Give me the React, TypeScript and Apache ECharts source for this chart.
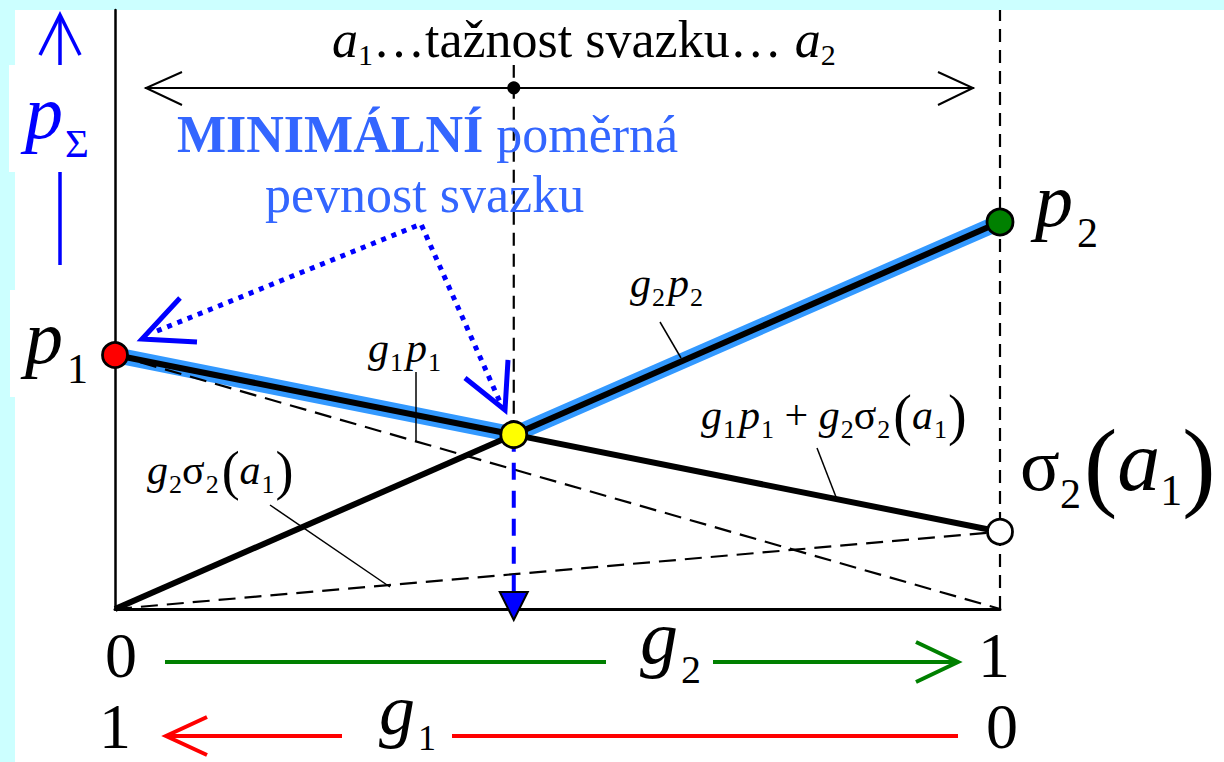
import React, { useEffect, useRef } from 'react';
import * as echarts from 'echarts';

// Strengths read on the p_Σ scale (0 at the g axis, 1 at the top of the frame)
const P1 = 0.424; // p1 – strength of component 1 (g2 = 0)
const P2 = 0.646; // p2 – strength of component 2 (g2 = 1)
const SIGMA2_A1 = 0.129; // σ2(a1) – stress in component 2 at elongation a1
const SPAN_LEVEL = 0.87; // height of the a1 … a2 span arrow
const GUIDE_TOP = 0.908; // upper end of the guide through the minimum

// Share g2 where both curves meet: the minimal bundle strength
const G2_MIN = P1 / (P1 - SIGMA2_A1 + P2);
const P_MIN = P2 * G2_MIN;

const lineG2P2 = [[0, 0], [1, P2]];
const lineMixed = [[0, P1], [1, SIGMA2_A1]];
const lineG1P1 = [[0, P1], [1, 0]];
const lineG2S2 = [[0, 0], [1, SIGMA2_A1]];
const envelope = [[0, P1], [G2_MIN, P_MIN], [1, P2]];

const SERIF = 'Liberation Serif';
const BLUE = '#0000ff';
const LIGHT_BLUE = '#3399ff';
const CAPTION_BLUE = '#3366ff';

type Piece = { t: string; s: number; i?: boolean; b?: boolean; dy?: number; dx?: number };

let measureCtx: CanvasRenderingContext2D | null = null;
function fontOf(p: Piece) {
  return `${p.i ? 'italic ' : ''}${p.b ? 'bold ' : ''}${p.s}px ${SERIF}`;
}
function widthOf(p: Piece) {
  if (!measureCtx) measureCtx = document.createElement('canvas').getContext('2d');
  measureCtx!.font = fontOf(p);
  return measureCtx!.measureText(p.t).width;
}

// Lays out a run of glyph pieces on a common baseline (subscripts via dy)
function formula(x: number, base: number, pieces: Piece[], fill: string, anchor: 'left' | 'center' = 'left') {
  const widths = pieces.map(widthOf);
  const total = widths.reduce((a, w, k) => a + w + (pieces[k].dx || 0), 0);
  let cx = anchor === 'center' ? x - total / 2 : x;
  return pieces.map((p, k) => {
    cx += p.dx || 0;
    const el = {
      type: 'text',
      x: cx,
      y: base + (p.dy || 0) - 0.3375 * p.s,
      z: 30,
      silent: true,
      style: {
        text: p.t,
        fill,
        fontSize: p.s,
        fontFamily: SERIF,
        fontStyle: p.i ? 'italic' : 'normal',
        fontWeight: p.b ? 'bold' : 'normal',
        align: 'left',
        verticalAlign: 'middle',
      },
    };
    cx += widths[k];
    return el;
  });
}

function seg(x1: number, y1: number, x2: number, y2: number, stroke: string, lineWidth: number) {
  return { type: 'line', z: 25, silent: true, shape: { x1, y1, x2, y2 }, style: { stroke, lineWidth } };
}
function poly(points: number[][], stroke: string, lineWidth: number, lineDash?: number[]) {
  return {
    type: 'polyline',
    z: 25,
    silent: true,
    shape: { points },
    style: { stroke, lineWidth, fill: 'none', lineDash, lineJoin: 'miter', lineCap: 'butt' },
  };
}

const SUB = 26;
const small = (t: string, i = true): Piece => ({ t, s: 42, i });
const sub = (t: string): Piece => ({ t, s: SUB, dy: 9, dx: 1 });

function buildGraphics() {
  const els: any[] = [];
  // white sheet and label panels
  els.push({ type: 'rect', z: -10, silent: true, shape: { x: 15, y: 10, width: 1209, height: 752 }, style: { fill: '#ffffff' } });
  els.push({ type: 'rect', z: -10, silent: true, shape: { x: 9, y: 65, width: 20, height: 107 }, style: { fill: '#ffffff' } });
  els.push({ type: 'rect', z: -10, silent: true, shape: { x: 10, y: 290, width: 20, height: 107 }, style: { fill: '#ffffff' } });

  // a1 … a2 span
  els.push(
    ...formula(332, 57, [
      { t: 'a', s: 52, i: true },
      { t: '1', s: 30, dy: 8 },
      { t: '…tažnost svazku… ', s: 52 },
      { t: 'a', s: 52, i: true },
      { t: '2', s: 30, dy: 8 },
    ], '#000000')
  );
  els.push(seg(145, 88, 974, 88, '#000', 2));
  els.push(poly([[182, 72], [146, 88], [182, 105]], '#000', 2));
  els.push(poly([[938, 72], [973, 88], [938, 105]], '#000', 2));

  // caption
  els.push(...formula(177, 152, [{ t: 'MINIMÁLNÍ', s: 52, b: true }, { t: ' poměrná', s: 52 }], CAPTION_BLUE));
  els.push(...formula(265, 212, [{ t: 'pevnost svazku', s: 52 }], CAPTION_BLUE));
  els.push(poly([[157, 331], [421, 224], [500, 402]], BLUE, 5, [5, 6]));
  els.push(poly([[180, 298], [142, 339], [197, 342]], BLUE, 5));
  els.push(poly([[465, 378], [505, 410], [508, 360]], BLUE, 5));

  // vertical quantity p_Σ
  els.push(seg(60, 16, 60, 65, BLUE, 3.5));
  els.push(poly([[40, 55], [60, 15], [80, 55]], BLUE, 3.5));
  els.push(seg(60, 172, 60, 265, BLUE, 3.5));
  els.push(...formula(25, 138, [{ t: 'p', s: 76, i: true }, { t: 'Σ', s: 41, dy: 19, dx: 2 }], BLUE));

  // point labels
  els.push(...formula(25, 363, [{ t: 'p', s: 76, i: true }, { t: '1', s: 42, dy: 20, dx: 4 }], '#000'));
  els.push(...formula(1035, 226, [{ t: 'p', s: 76, i: true }, { t: '2', s: 42, dy: 21, dx: 4 }], '#000'));
  els.push(
    ...formula(1020, 490, [
      { t: 'σ', s: 74 },
      { t: '2', s: 42, dy: 18 },
      { t: '(', s: 100, dy: 8, dx: 3 },
      { t: 'a', s: 86, i: true },
      { t: '1', s: 44, dy: 15 },
      { t: ')', s: 100, dy: 8 },
    ], '#000')
  );

  // curve labels with leaders
  els.push(...formula(630, 297, [small('g'), sub('2'), { ...small('p'), dx: 3 }, sub('2')], '#000'));
  els.push(seg(660, 322, 681, 358, '#000', 1.5));
  els.push(...formula(368, 362, [small('g'), sub('1'), { ...small('p'), dx: 3 }, sub('1')], '#000'));
  els.push(seg(416, 372, 416, 442, '#000', 1.5));
  els.push(
    ...formula(147, 484, [
      small('g'), sub('2'), small('σ', false), sub('2'),
      { t: '(', s: 54, dy: 5, dx: 3 }, small('a'), sub('1'), { t: ')', s: 54, dy: 5, dx: 1 },
    ], '#000')
  );
  els.push(seg(270, 505, 390, 587, '#000', 1.5));
  els.push(
    ...formula(701, 429, [
      small('g'), sub('1'), { ...small('p'), dx: 3 }, sub('1'),
      { t: ' + ', s: 42 },
      small('g'), sub('2'), small('σ', false), sub('2'),
      { t: '(', s: 56, dy: 5, dx: 3 }, small('a'), sub('1'), { t: ')', s: 56, dy: 5, dx: 1 },
    ], '#000')
  );
  els.push(seg(817, 448, 836, 497, '#000', 1.5));

  // g2 scale (green)
  els.push(...formula(121, 677, [{ t: '0', s: 64 }], '#000', 'center'));
  els.push(...formula(994, 677, [{ t: '1', s: 64 }], '#000', 'center'));
  els.push(seg(165, 662, 606, 662, '#008000', 4));
  els.push(...formula(640, 663, [{ t: 'g', s: 76, i: true }, { t: '2', s: 40, dy: 20, dx: 3 }], '#000'));
  els.push(seg(713, 662, 958, 662, '#008000', 4));
  els.push(poly([[916, 642], [958, 662], [916, 682]], '#008000', 4));

  // g1 scale (red)
  els.push(...formula(115, 748, [{ t: '1', s: 64 }], '#000', 'center'));
  els.push(...formula(1002, 748, [{ t: '0', s: 64 }], '#000', 'center'));
  els.push(seg(166, 736, 342, 736, '#ff0000', 4));
  els.push(poly([[207, 717], [166, 736], [207, 755]], '#ff0000', 4));
  els.push(...formula(379, 734, [{ t: 'g', s: 72, i: true }, { t: '1', s: 36, dy: 16, dx: 3 }], '#000'));
  els.push(seg(452, 736, 958, 736, '#ff0000', 4));
  return els;
}

function lineSeries(data: number[][], color: string, width: number, z: number, dash: any = 'solid') {
  return {
    type: 'line',
    data,
    symbol: 'none',
    showSymbol: false,
    clip: false,
    silent: true,
    z,
    lineStyle: { color, width, type: dash, cap: 'butt' },
  };
}

function point(x: number, y: number, color: string, size: number) {
  return { value: [x, y], symbolSize: size, itemStyle: { color, borderColor: '#000', borderWidth: 2.8, opacity: 1 } };
}

export default function App() {
  const ref = useRef<HTMLDivElement>(null);
  useEffect(() => {
    if (!ref.current) return;
    const chart = echarts.init(ref.current, undefined, { renderer: 'svg' });
    chart.setOption({
      animation: false,
      backgroundColor: '#ccffff',
      grid: { left: 115, top: 10, width: 885, height: 599, containLabel: false },
      xAxis: {
        type: 'value', min: 0, max: 1,
        axisLine: { show: true, onZero: false, lineStyle: { color: '#000', width: 3 } },
        axisTick: { show: false }, axisLabel: { show: false }, splitLine: { show: false },
      },
      yAxis: {
        type: 'value', min: 0, max: 1,
        axisLine: { show: true, onZero: false, lineStyle: { color: '#000', width: 2.5 } },
        axisTick: { show: false }, axisLabel: { show: false }, splitLine: { show: false },
      },
      graphic: { elements: buildGraphics() },
      series: [
        lineSeries(envelope, LIGHT_BLUE, 16, 3),
        lineSeries(lineG1P1, '#000', 2.2, 4, [17, 9]),
        lineSeries(lineG2S2, '#000', 2.2, 4, [17, 9]),
        lineSeries([[1, 0], [1, 1]], '#000', 2.2, 4, [13, 8]),
        lineSeries([[G2_MIN, P_MIN], [G2_MIN, GUIDE_TOP]], '#000', 2.2, 4, [13, 8]),
        lineSeries([[G2_MIN, P_MIN], [G2_MIN, 0]], BLUE, 4, 4, [17, 11]),
        lineSeries(lineG2P2, '#000', 6, 5),
        lineSeries(lineMixed, '#000', 6, 5),
        {
          type: 'scatter',
          clip: false,
          silent: true,
          z: 8,
          symbol: 'triangle',
          symbolRotate: 180,
          symbolSize: [28, 28],
          symbolOffset: [0, -3],
          itemStyle: { color: BLUE, borderColor: '#000', borderWidth: 2, opacity: 1 },
          data: [[G2_MIN, 0]],
        },
        {
          type: 'scatter',
          clip: false,
          silent: true,
          z: 9,
          symbol: 'circle',
          data: [
            point(0, P1, '#ff0000', 25),
            point(G2_MIN, P_MIN, '#ffff00', 26),
            point(1, P2, '#008000', 26),
            point(1, SIGMA2_A1, '#ffffff', 25),
            { value: [G2_MIN, SPAN_LEVEL], symbolSize: 13, itemStyle: { color: '#000', borderWidth: 0, opacity: 1 } },
          ],
        },
      ],
    });
    return () => chart.dispose();
  }, []);
  return <div ref={ref} style={{ position: 'absolute', left: 0, top: 0, width: 1224, height: 762 }} />;
}
